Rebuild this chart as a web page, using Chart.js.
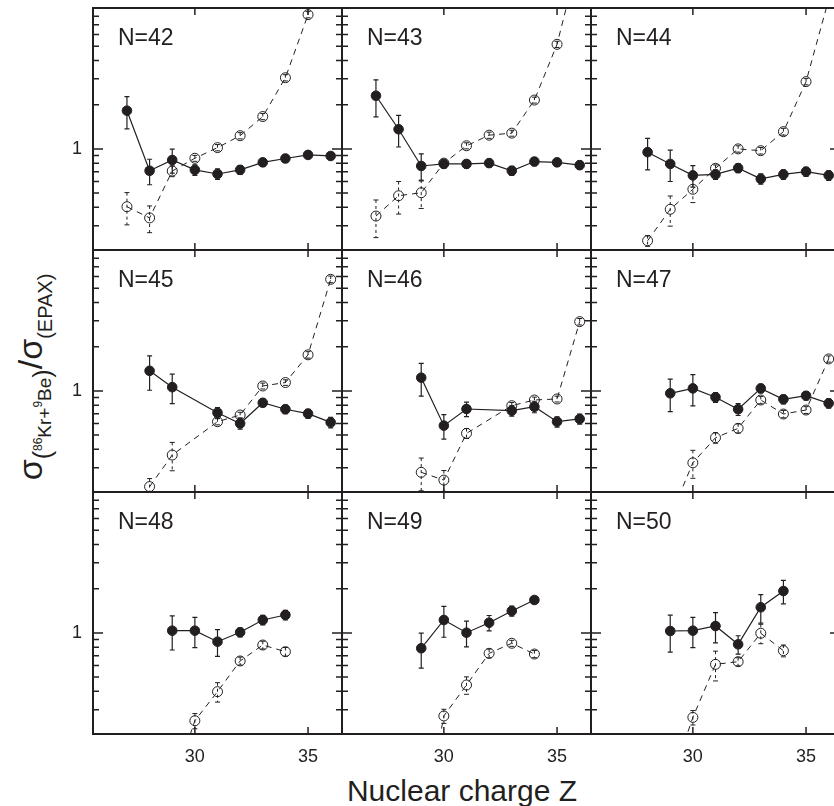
<!DOCTYPE html>
<html>
<head>
<meta charset="utf-8">
<script src="https://cdn.jsdelivr.net/npm/chart.js@4.4.1/dist/chart.umd.min.js"></script>
<style>
  html, body { margin: 0; padding: 0; background: #fff; overflow: hidden; }
  #wrap { position: relative; width: 834px; height: 806px; overflow: hidden; }
  #wrap canvas { position: absolute; left: 0; top: 0; }
  .title { position: absolute; font-family: 'Liberation Sans', Arial, Helvetica, sans-serif; color: #231f20; white-space: nowrap; line-height: 1; }
  #xtitle { font-size: 30px; left: 462px; top: 791px; transform: translate(-50%, -50%); }
  #ytitle { font-size: 34px; left: 30px; top: 377px; transform: translate(-50%, -50%) rotate(-90deg); }
  #ytitle .sub { font-size: 19px; position: relative; top: 9px; }
  #ytitle .sub2 { font-size: 20px; position: relative; top: 10px; }
  #ytitle .par { font-size: 25px; }
  #ytitle .sup { font-size: 12px; position: relative; top: -9px; }
</style>
</head>
<body>
<div id="wrap">
  <div id="ytitle" class="title">σ<span class="sub"><span class="par">(</span><span class="sup">86</span>Kr+<span class="sup">9</span>Be<span class="par">)</span></span>/σ<span class="sub2">(EPAX)</span></div>
  <div id="xtitle" class="title">Nuclear charge Z</div>
</div>
<script>
// Ratio of measured 86Kr+9Be cross sections to EPAX, one panel per neutron number

const neutrons = [42, 43, 44, 45, 46, 47, 48, 49, 50];
const charges = [27, 28, 29, 30, 31, 32, 33, 34, 35, 36];

// filled circles (one row per panel, aligned with charges)
const measured = [
    [1.82, 0.71, 0.84, 0.72, 0.675, 0.72, 0.81, 0.86, 0.91, 0.895],
    [2.30, 1.36, 0.765, 0.79, 0.79, 0.80, 0.71, 0.82, 0.81, 0.775],
    [null, 0.95, 0.79, 0.66, 0.67, 0.74, 0.625, 0.67, 0.70, 0.66],
    [null, 1.37, 1.06, null, 0.71, 0.60, 0.83, 0.75, 0.70, 0.61],
    [null, null, 1.23, 0.58, 0.753, null, 0.733, 0.78, 0.617, 0.644],
    [null, null, 0.963, 1.04, 0.905, 0.75, 1.04, 0.877, 0.927, 0.823],
    [null, null, 1.035, 1.035, 0.871, 1.01, 1.224, 1.324, null, null],
    [null, null, 0.786, 1.224, 1.003, 1.173, 1.41, 1.675, null, null],
    [null, null, 1.03, 1.035, 1.114, 0.836, 1.494, 1.928, null, null]
];
const measuredErr = [
    [0.45, 0.14, 0.155, 0.06, 0.055, 0.05, 0.05, 0.05, 0.05, 0.05],
    [0.65, 0.33, 0.16, 0.05, 0.05, 0.05, 0.05, 0.05, 0.05, 0.05],
    [null, 0.23, 0.19, 0.11, 0.05, 0.05, 0.05, 0.05, 0.05, 0.05],
    [null, 0.36, 0.24, null, 0.06, 0.05, 0.05, 0.05, 0.05, 0.05],
    [null, null, 0.31, 0.11, 0.085, null, 0.06, 0.07, 0.05, 0.05],
    [null, null, 0.24, 0.25, 0.07, 0.07, 0.07, 0.06, 0.06, 0.06],
    [null, null, 0.27, 0.24, 0.18, 0.07, 0.09, 0.1, null, null],
    [null, null, 0.21, 0.29, 0.2, 0.14, 0.11, 0.07, null, null],
    [null, null, 0.29, 0.24, 0.26, 0.12, 0.33, 0.35, null, null]
];

// open circles, dashed line
const epax = [
    [0.404, 0.339, 0.707, 0.863, 1.02, 1.23, 1.66, 3.05, 8.2, null],
    [0.349, 0.48, 0.503, 0.80, 1.05, 1.24, 1.28, 2.15, 5.15, 21],
    [null, 0.237, 0.388, 0.531, 0.738, 1.0, 0.972, 1.31, 2.87, 10.4],
    [null, 0.223, 0.366, null, 0.617, 0.685, 1.08, 1.14, 1.76, 5.75],
    [null, null, 0.279, 0.247, 0.514, null, 0.793, 0.867, 0.881, 2.96],
    [null, null, 0.139, 0.324, 0.48, 0.556, 0.867, 0.696, 0.741, 1.65],
    [null, null, 0.089, 0.2525, 0.398, 0.644, 0.827, 0.745, null, null],
    [null, null, 0.041, 0.272, 0.442, 0.726, 0.85, 0.718, null, null],
    [null, null, 0.094, 0.266, 0.611, 0.637, 0.994, 0.757, null, null]
];
const epaxErr = [
    [0.1, 0.07, 0.06, 0.04, 0.05, 0.06, 0.08, 0.15, 0.4, null],
    [0.1, 0.12, 0.11, 0.04, 0.05, 0.06, 0.06, 0.1, 0.25, 0],
    [null, 0.02, 0.09, 0.1, 0.04, 0.05, 0.05, 0.07, 0.14, 0],
    [null, 0.03, 0.08, null, 0.03, 0.03, 0.05, 0.05, 0.09, 0.3],
    [null, null, 0.07, 0.04, 0.04, null, 0.04, 0.04, 0.04, 0.15],
    [null, null, 0, 0.07, 0.04, 0.04, 0.05, 0.04, 0.04, 0.08],
    [null, null, 0, 0.03, 0.06, 0.04, 0.05, 0.05, null, null],
    [null, null, 0, 0.03, 0.06, 0.05, 0.04, 0.04, null, null],
    [null, null, 0, 0.03, 0.14, 0.04, 0.15, 0.07, null, null]
];

const xTickValues = [30, 35];
const yTickValues = [0.3, 0.4, 0.5, 0.6, 0.7, 0.8, 0.9, 1, 2, 3, 4, 5, 6, 7, 8];
const yLabelValues = [1];

// layout
const FONT = "'Liberation Sans', Arial, Helvetica, sans-serif";
const INK = '#231f20';
const CANVAS_W = 850, CANVAS_H = 806;
const PANEL_LEFT = 93, PANEL_TOP = 8, PANEL_W = 249, PANEL_H = 242;
const AXIS_BAND = 40;   // room kept for tick labels on the outer panels

function toPoints(values, errs) {
    return charges
        .map((z, i) => ({ x: z, y: values[i], err: errs[i] }))
        .filter(p => p.y !== null);
}

// vertical error bars with small caps
const errorBars = {
    id: 'errorBars',
    beforeDatasetsDraw(chart) {
        const { ctx, chartArea: a, scales: { x, y } } = chart;
        ctx.save();
        ctx.beginPath();
        ctx.rect(a.left, a.top, a.width, a.height);
        ctx.clip();
        ctx.strokeStyle = INK;
        chart.data.datasets.forEach(ds => {
            ctx.lineWidth = ds.errorWidth;
            ds.data.forEach(p => {
                if (!p.err) return;
                const px = x.getPixelForValue(p.x);
                const y1 = y.getPixelForValue(p.y + p.err);
                const y2 = y.getPixelForValue(Math.max(p.y - p.err, 0.001));
                ctx.setLineDash(ds.errorDash);
                ctx.beginPath();
                ctx.moveTo(px, y1);
                ctx.lineTo(px, y2);
                ctx.stroke();
                ctx.setLineDash([]);
                ctx.beginPath();
                ctx.moveTo(px - 2.5, y1);
                ctx.lineTo(px + 2.5, y1);
                ctx.moveTo(px - 2.5, y2);
                ctx.lineTo(px + 2.5, y2);
                ctx.stroke();
            });
        });
        ctx.restore();
    }
};

// frame, inward ticks on all four sides, panel label
const panelFrame = {
    id: 'panelFrame',
    afterDraw(chart, args, opts) {
        const { ctx, chartArea: a, scales: { x, y } } = chart;
        ctx.save();
        ctx.strokeStyle = INK;
        ctx.lineWidth = 1.5;
        ctx.beginPath();
        y.ticks.forEach(t => {
            const py = y.getPixelForValue(t.value);
            const len = yLabelValues.includes(t.value) ? 10 : 6;
            ctx.moveTo(a.left, py);
            ctx.lineTo(a.left + len, py);
            ctx.moveTo(a.right, py);
            ctx.lineTo(a.right - len, py);
        });
        x.ticks.forEach(t => {
            const px = x.getPixelForValue(t.value);
            ctx.moveTo(px, a.top);
            ctx.lineTo(px, a.top + 7);
            ctx.moveTo(px, a.bottom);
            ctx.lineTo(px, a.bottom - 7);
        });
        ctx.stroke();
        ctx.lineWidth = 2;
        ctx.strokeRect(a.left, a.top, a.width, a.height);
        ctx.fillStyle = INK;
        ctx.font = '23px ' + FONT;
        ctx.textAlign = 'left';
        ctx.textBaseline = 'alphabetic';
        ctx.fillText(opts.label, a.left + 25, a.top + 37);
        ctx.restore();
    }
};

// fixed axis size, and no extra padding asked from the layout
function fixedFit(size) {
    return scale => {
        if (scale.isHorizontal()) scale.height = size; else scale.width = size;
        scale.paddingTop = 0;
        scale.paddingBottom = 0;
        scale.paddingLeft = 0;
        scale.paddingRight = 0;
    };
}

const wrap = document.getElementById('wrap');

neutrons.forEach((n, k) => {
    const row = Math.floor(k / 3);
    const col = k % 3;
    const left = PANEL_LEFT + col * PANEL_W;
    const top = PANEL_TOP + row * PANEL_H;
    const yBand = col === 0 ? AXIS_BAND : 0;
    const xBand = row === 2 ? AXIS_BAND : 0;

    const canvas = document.createElement('canvas');
    canvas.width = CANVAS_W;
    canvas.height = CANVAS_H;
    wrap.appendChild(canvas);

    new Chart(canvas.getContext('2d'), {
        type: 'line',
        data: {
            datasets: [{
                label: 'measured',
                data: toPoints(measured[k], measuredErr[k]),
                borderColor: INK,
                borderWidth: 1.2,
                pointRadius: 4.8,
                pointBackgroundColor: INK,
                pointBorderColor: INK,
                pointBorderWidth: 1,
                errorDash: [],
                errorWidth: 1.2
            }, {
                label: 'EPAX',
                data: toPoints(epax[k], epaxErr[k]),
                borderColor: INK,
                borderWidth: 1,
                borderDash: [6, 5],
                pointRadius: 5,
                pointBackgroundColor: 'rgba(255,255,255,0)',
                pointBorderColor: INK,
                pointBorderWidth: 1,
                errorDash: [3, 3],
                errorWidth: 1
            }]
        },
        options: {
            responsive: false,
            animation: false,
            devicePixelRatio: 1,
            events: [],
            layout: {
                padding: {
                    left: left - yBand,
                    top: top,
                    right: CANVAS_W - left - PANEL_W,
                    bottom: CANVAS_H - top - PANEL_H - xBand
                }
            },
            plugins: {
                legend: { display: false },
                tooltip: { enabled: false },
                panelFrame: { label: 'N=' + n }
            },
            scales: {
                x: {
                    type: 'linear',
                    min: 25.5,
                    max: 36.5,
                    afterBuildTicks: s => { s.ticks = xTickValues.map(v => ({ value: v })); },
                    afterFit: fixedFit(xBand),
                    grid: { display: false, drawTicks: false },
                    border: { display: false },
                    ticks: {
                        display: row === 2,
                        autoSkip: false,
                        maxRotation: 0,
                        padding: 12,
                        color: INK,
                        font: { family: FONT, size: 18 },
                        callback: v => String(v)
                    }
                },
                y: {
                    type: 'logarithmic',
                    min: 0.205,
                    max: 9.1,
                    afterBuildTicks: s => { s.ticks = yTickValues.map(v => ({ value: v })); },
                    afterFit: fixedFit(yBand),
                    grid: { display: false, drawTicks: false },
                    border: { display: false },
                    ticks: {
                        display: col === 0,
                        autoSkip: false,
                        padding: 11,
                        color: INK,
                        font: { family: FONT, size: 18 },
                        callback: v => yLabelValues.includes(v) ? String(v) : ''
                    }
                }
            }
        },
        plugins: [errorBars, panelFrame]
    });
});
</script>
</body>
</html>
